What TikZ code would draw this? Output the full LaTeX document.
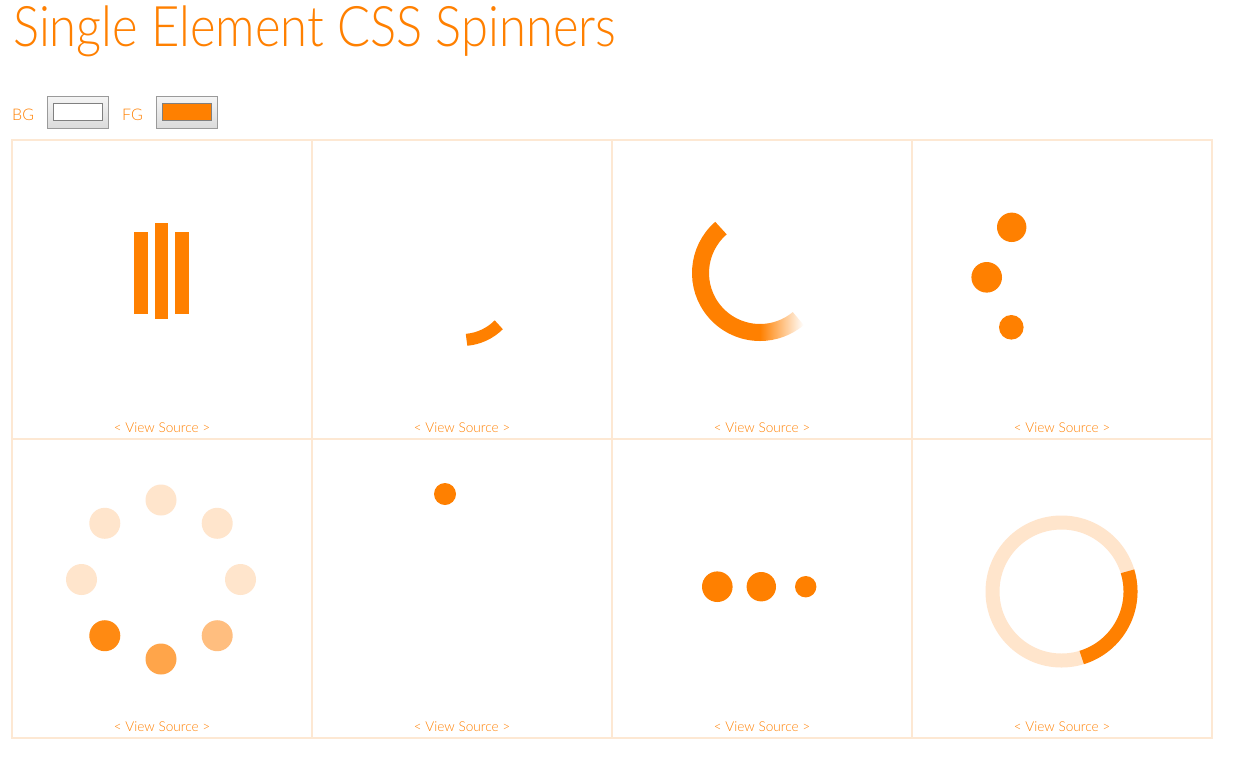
\documentclass[tikz,border=0pt]{standalone}
\usepackage{fontspec}
\setmainfont{Lato}[UprightFont={* Light}]
\usepackage{xcolor}
\usetikzlibrary{positioning}
\definecolor{spinorange}{HTML}{FF8000}
\definecolor{spinlight}{HTML}{FFE5CC}
\definecolor{spinfade}{HTML}{FFBE7F}
\definecolor{spinhalf}{HTML}{FFA54A}
\definecolor{spinstrong}{HTML}{FF8A12}
\definecolor{cellline}{HTML}{FDE8D3}
\definecolor{btnborder}{HTML}{9A9A9A}
\definecolor{swatchborder}{HTML}{808080}

\begin{document}
\begin{tikzpicture}[x=1pt, y=-1pt,
        cell/.style={draw=cellline, line width=2pt, minimum width=300pt, minimum height=299pt, inner sep=0pt},
        srclabel/.style={text=spinorange, font=\fontsize{13.6}{15}\selectfont, anchor=base, inner sep=0pt},
        pick/.style={text=spinorange, font=\fontsize{16}{18}\selectfont, anchor=base west, inner sep=0pt},
        button/.style={draw=btnborder, top color=black!4, bottom color=black!14, minimum width=61pt, minimum height=32pt, inner sep=0pt},
        swatch/.style={draw=swatchborder, minimum width=49pt, minimum height=17pt, inner sep=0pt}]
        % 背景与边界
        \useasboundingbox (0,0) rectangle (1255,756);
        \fill[white] (0,0) rectangle (1255,756);

        % 标题
        \node[anchor=base west, inner sep=0pt, text=spinorange, font=\fontsize{56}{60}\selectfont] (title) at (13,46) {\resizebox{603pt}{\height}{Single Element CSS Spinners}};

        % 颜色选择
        \node[pick] (bglabel) at (12,120) {BG};
        \node[button] (bgbutton) at (77.5,112) {};
        \node[swatch, fill=white] (bgswatch) at (bgbutton) {};
        \node[pick] (fglabel) at (122,120) {FG};
        \node[button] (fgbutton) at (187,112) {};
        \node[swatch, fill=spinorange] (fgswatch) at (fgbutton) {};

        % 格子与链接
        \foreach \i in {0,...,3}
          \foreach \j in {0,1} {
            \node[cell] (cell-\i-\j) at ({162+300*\i},{289.5+299*\j}) {};
            \node[srclabel] (src-\i-\j) at ([yshift=8pt]cell-\i-\j.south) {< View Source >};
          }

        % 第一个: 三根竖条
        \fill[spinorange] (134,232) rectangle (148,314);
        \fill[spinorange] (155,223) rectangle (168,319);
        \fill[spinorange] (175,232) rectangle (189,314);

        % 第二个: 一小段弧
        \draw[spinorange, line width=12pt] ([shift={(462,288)}]45:52) arc[start angle=45, end angle=85, radius=52];

        % 第三个: 渐隐的圆弧
        \draw[spinorange, line width=17pt] ([shift={(760,273)}]229:59.5) arc[start angle=229, end angle=90, radius=59.5];
        \shade[left color=spinorange, right color=white] ([shift={(760,273)}]90:68) arc[start angle=90, end angle=50, radius=68]
          -- ([shift={(760,273)}]50:51) arc[start angle=50, end angle=90, radius=51] -- cycle;

        % 第四个: 三个点
        \fill[spinorange] (1011.7,227.3) circle (14.7);
        \fill[spinorange] (986.7,277.3) circle (15.3);
        \fill[spinorange] (1011.3,327.3) circle (12.3);

        % 第五个: 一圈八个点
        \foreach \a/\c in {270/spinlight, 315/spinlight, 0/spinlight, 45/spinfade, 90/spinhalf, 135/spinstrong, 180/spinlight, 225/spinlight}
          \fill[\c] ([shift={(161,579.5)}]\a:79.5) circle (15.5);

        % 第六个: 一个点
        \fill[spinorange] (445,494) circle (11);

        % 第七个: 一排点
        \fill[spinorange] (717.3,586.7) circle (15.3);
        \fill[spinorange] (761.3,586.7) circle (14.7);
        \fill[spinorange] (805.7,586.7) circle (10.7);

        % 第八个: 圆环
        \draw[spinlight, line width=14pt] (1061.5,591.5) circle (69);
        \draw[spinorange, line width=14pt] ([shift={(1061.5,591.5)}]-17:69) arc[start angle=-17, end angle=73, radius=69];
        \end{tikzpicture}
\end{document}
